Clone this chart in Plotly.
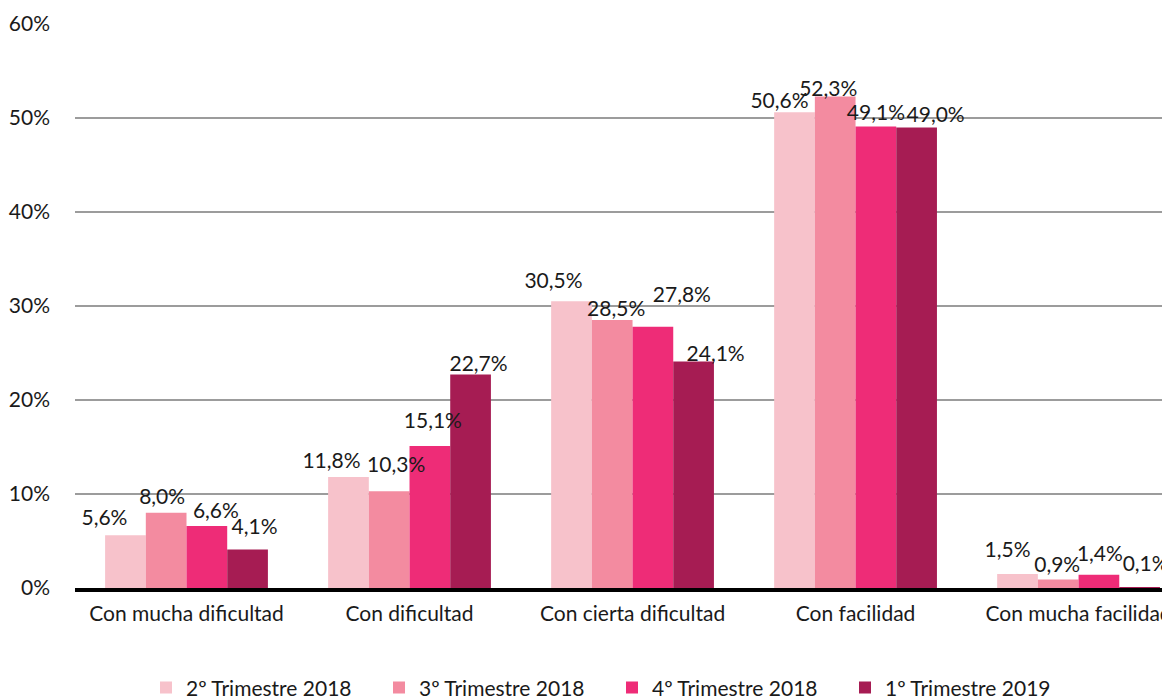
import plotly.graph_objects as go

categories = ["Con mucha dificultad", "Con dificultad", "Con cierta dificultad",
              "Con facilidad", "Con mucha facilidad"]
series_names = ["2º Trimestre 2018", "3º Trimestre 2018", "4º Trimestre 2018", "1º Trimestre 2019"]
t2_2018 = [5.6, 11.8, 30.5, 50.6, 1.5]
t3_2018 = [8.0, 10.3, 28.5, 52.3, 0.9]
t4_2018 = [6.6, 15.1, 27.8, 49.1, 1.4]
t1_2019 = [4.1, 22.7, 24.1, 49.0, 0.1]
y_ticks = [0, 10, 20, 30, 40, 50, 60]
y_ticklabels = [f"{v}%" for v in y_ticks]

# styles / label nudges (pixels), separate from the data
colors = ["#F7C2CB", "#F38BA0", "#EE2C77", "#A61C53"]
label_dx = [[-21, -17, -18, -15, -10],
            [-4, 7, 4, -7, -1],
            [9, 3, 29, 0, 1],
            [7, 8, 22, 19, 6]]
label_dy = [[16, 14, 19, 10, 22],
            [14, 24, 9, 6, 13],
            [13, 23, 30, 12, 19],
            [21, 9, 6, 11, 21]]

FONT = "Lato"
FS = 21
W, H = 1162, 691
ML, MR, MT, MB = 67, 0, 16, 111
XR = [-0.5, 4.41]
YR = [0, 60]
BARGAP = 0.27
px_x = (W - ML - MR) / (XR[1] - XR[0])
px_y = (H - MT - MB) / (YR[1] - YR[0])
n = len(series_names)
bw = (1 - BARGAP) / n

fig = go.Figure()
all_series = [t2_2018, t3_2018, t4_2018, t1_2019]
for k, (name, vals, col) in enumerate(zip(series_names, all_series, colors)):
    fig.add_trace(go.Bar(
        name=name, x=list(range(len(categories))), y=vals,
        marker=dict(color=col, line=dict(width=0)),
    ))
for k, vals in enumerate(all_series):
    xs = [i + (k - (n - 1) / 2) * bw + label_dx[k][i] / px_x for i in range(len(vals))]
    ys = [v + label_dy[k][i] / px_y for i, v in enumerate(vals)]
    fig.add_trace(go.Scatter(
        x=xs, y=ys, mode="text", showlegend=False, hoverinfo="skip",
        text=[f"{v:.1f}%".replace(".", ",") for v in vals],
        textposition="middle center",
        textfont=dict(family=FONT, size=FS, color="#1a1a1a"),
        cliponaxis=False,
    ))

fig.update_layout(
    width=W, height=H,
    margin=dict(l=ML, r=MR, t=MT, b=MB, autoexpand=False),
    paper_bgcolor="white", plot_bgcolor="white",
    barmode="group", bargap=BARGAP, bargroupgap=0,
    font=dict(family=FONT, size=FS, color="#1a1a1a"),
    xaxis=dict(
        tickmode="array", tickvals=list(range(len(categories))), ticktext=categories,
        range=XR, showline=True, linecolor="black", linewidth=4,
        ticks="", showgrid=False, zeroline=False, tickfont=dict(size=FS),
        automargin=False, ticklabelstandoff=4, ticklabeloverflow="allow",
    ),
    yaxis=dict(
        range=YR, tickvals=y_ticks, ticktext=y_ticklabels,
        showgrid=True, gridcolor="#9C9C9C", gridwidth=2, zeroline=False,
        ticks="", tickfont=dict(size=FS), ticklabelstandoff=24, automargin=False,
    ),
    legend=dict(
        orientation="h", x=(138 - ML) / (W - ML - MR), xanchor="left",
        y=-0.177, yanchor="middle",
        font=dict(size=FS), traceorder="normal", entrywidth=188, entrywidthmode="pixels",
    ),
)

fig.write_html("out.html")
